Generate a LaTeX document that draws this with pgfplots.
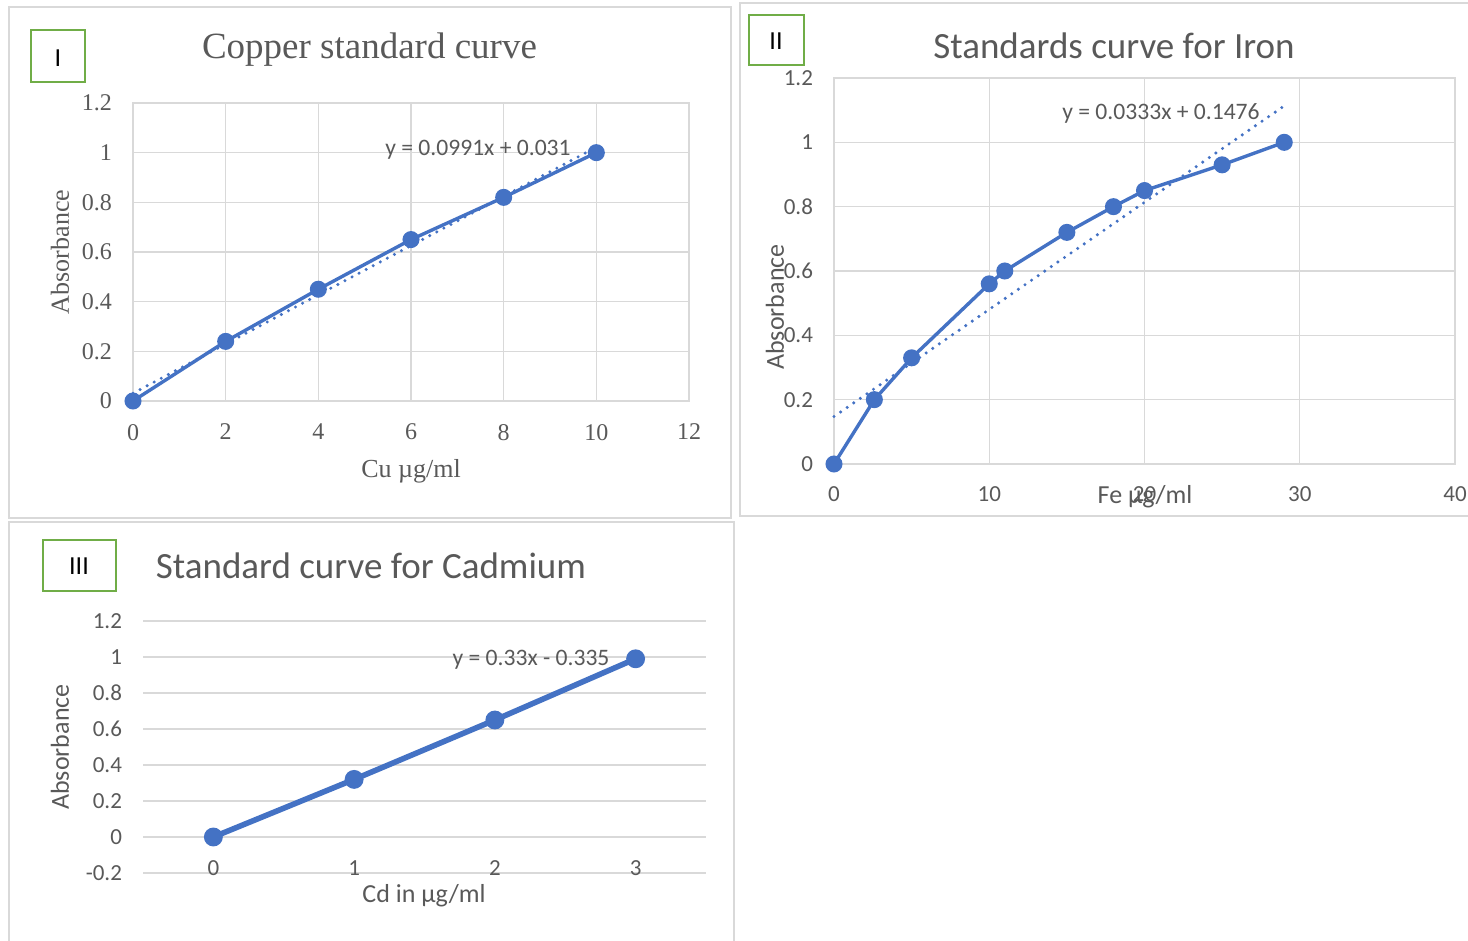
\documentclass[border=0pt]{standalone}
\usepackage{fontspec}
\setmainfont{Carlito}
\newfontfamily\timesfont{Liberation Serif}
\usepackage{pgfplots}
\pgfplotsset{compat=1.18}
\definecolor{txtgray}{HTML}{595959}
\definecolor{gridgray}{HTML}{D9D9D9}
\definecolor{xlblue}{HTML}{4472C4}
\definecolor{xlgreen}{HTML}{70AD47}
\begin{document}
\begin{tikzpicture}
\useasboundingbox (0,0) rectangle (734pt,470.5pt);
\pgfplotsset{
  panel/.style={
    anchor=south west, scale only axis, clip=false,
    /pgf/number format/assume math mode=true,
    major tick length=0pt,
    grid=major, major grid style={gridgray, line width=0.7pt},
    axis line style={gridgray, line width=0.7pt},
    tick label style={text=txtgray},
    yticklabel style={xshift=-7pt},
    xticklabel style={yshift=-8pt},
  },
  series/.style={xlblue, line width=1.7pt, mark=*, mark size=3.4pt, mark options={fill=xlblue, draw=xlblue, solid}},
  trend/.style={xlblue, line width=1.7pt, line cap=round, dash pattern=on 0pt off 4pt, no marks},
}
% panel borders
\draw[gridgray, line width=0.8pt] (4.5pt,211.5pt) rectangle (365.5pt,467pt);
\draw[gridgray, line width=0.8pt] (370pt,212.5pt) rectangle (736pt,469pt);
\draw[gridgray, line width=0.8pt] (4.5pt,-2pt) rectangle (367pt,209.5pt);
% green boxes
\draw[xlgreen, line width=1.1pt] (15.5pt,429.5pt) rectangle (42.5pt,455.5pt);
\draw[xlgreen, line width=1.1pt] (374.5pt,438pt) rectangle (401.8pt,463pt);
\draw[xlgreen, line width=1.1pt] (21.3pt,175pt) rectangle (57.8pt,200.5pt);
\node[font=\fontsize{13}{15}\selectfont] at (29pt,441.5pt) {I};
\node[font=\fontsize{13}{15}\selectfont] at (388pt,450pt) {II};
\node[font=\fontsize{13}{15}\selectfont] at (39.5pt,187.5pt) {III};

% ---------- Panel I: Copper ----------
\begin{axis}[panel,
  at={(66.5pt,270pt)}, width=278pt, height=149pt,
  xmin=0, xmax=12, ymin=0, ymax=1.2,
  xtick={0,2,4,6,8,10,12},
  ytick={0,0.2,0.4,0.6,0.8,1,1.2},
  yticklabels={0,0.2,0.4,0.6,0.8,1,1.2},
  tick label style={font=\timesfont\fontsize{12}{14}\selectfont},
]
\addplot[trend] coordinates {(0,0.031) (10,1.022)};
\addplot[series] coordinates {(0,0) (2,0.24) (4,0.45) (6,0.65) (8,0.82) (10,1.0)};
\end{axis}
\node[font=\timesfont\fontsize{18.5}{21}\selectfont, text=txtgray] at (184.75pt,445.5pt) {Copper standard curve};
\node[font=\fontsize{11.8}{13}\selectfont, text=txtgray] at (239pt,395.5pt) {y = 0.0991x + 0.031};
\node[font=\timesfont\fontsize{13}{15}\selectfont, text=txtgray, rotate=90] at (30pt,344.5pt) {Absorbance};
\node[font=\timesfont\fontsize{13}{15}\selectfont, text=txtgray] at (205.5pt,235pt) {Cu µg/ml};

% ---------- Panel II: Iron ----------
\begin{axis}[panel,
  at={(417pt,238.5pt)}, width=310.5pt, height=193pt,
  xmin=0, xmax=40, ymin=0, ymax=1.2,
  xtick={0,10,20,30,40},
  ytick={0,0.2,0.4,0.6,0.8,1,1.2},
  yticklabels={0,0.2,0.4,0.6,0.8,1,1.2},
  tick label style={font=\fontsize{11.5}{13}\selectfont},
]
\addplot[trend] coordinates {(0,0.1476) (29,1.1133)};
\addplot[series] coordinates {(0,0) (2.6,0.2) (5,0.33) (10,0.56) (11,0.6) (15,0.72) (18,0.8) (20,0.85) (25,0.93) (29,1.0)};
\end{axis}
\node[font=\fontsize{18.5}{21}\selectfont, text=txtgray] at (557pt,447.5pt) {Standards curve for Iron};
\node[font=\fontsize{11.8}{13}\selectfont, text=txtgray] at (580.5pt,414pt) {y = 0.0333x + 0.1476};
\node[font=\fontsize{13}{15}\selectfont, text=txtgray, rotate=90] at (387.5pt,317pt) {Absorbance};
\node[font=\fontsize{13}{15}\selectfont, text=txtgray] at (572.5pt,222pt) {Fe µg/ml};

% ---------- Panel III: Cadmium ----------
\begin{axis}[panel,
  at={(71.5pt,34pt)}, width=281.5pt, height=126pt,
  xmin=-0.5, xmax=3.5, ymin=-0.2, ymax=1.2,
  xtick={0,1,2,3}, xmajorgrids=false, ymajorgrids=true,
  axis line style={draw=none},
  ytick={-0.2,0,0.2,0.4,0.6,0.8,1,1.2},
  yticklabels={-0.2,0,0.2,0.4,0.6,0.8,1,1.2},
  tick label style={font=\fontsize{11.5}{13}\selectfont},
  xticklabel style={anchor=center, yshift=10.5pt},
]
\addplot[series, line width=2.8pt, mark size=3.3pt] coordinates {(0,0) (1,0.32) (2,0.65) (3,0.99)};
\end{axis}
\node[font=\fontsize{18.5}{21}\selectfont, text=txtgray] at (185.5pt,187.5pt) {Standard curve for Cadmium};
\node[font=\fontsize{11.8}{13}\selectfont, text=txtgray] at (265.5pt,140.5pt) {y = 0.33x - 0.335};
\node[font=\fontsize{13}{15}\selectfont, text=txtgray, rotate=90] at (30pt,97pt) {Absorbance};
\node[font=\fontsize{13}{15}\selectfont, text=txtgray] at (212pt,22.5pt) {Cd in µg/ml};
\end{tikzpicture}
\end{document}
